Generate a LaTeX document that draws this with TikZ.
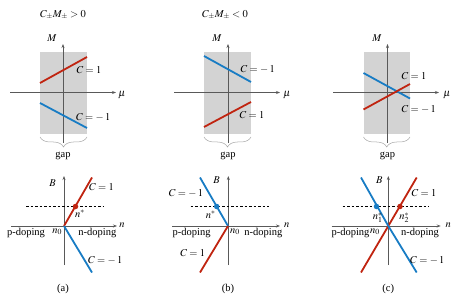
\documentclass[tikz,border=0pt]{standalone}
\usepackage{mathptmx}
\usepackage{fontspec}
\setmainfont{Liberation Serif}
\usetikzlibrary{arrows.meta,decorations.pathreplacing}
\definecolor{cred}{RGB}{192,36,16}
\definecolor{cblue}{RGB}{24,124,196}
\definecolor{cgap}{RGB}{211,211,211}
\tikzset{
  axis/.style={black!65,line width=0.8pt,-{Stealth[length=4pt,width=3pt]}},
  redline/.style={cred,line width=1.8pt},
  blueline/.style={cblue,line width=1.8pt},
  gapbox/.style={fill=cgap,draw=none},
  gapbrace/.style={black!35,line width=0.5pt,decorate,decoration={brace,mirror,amplitude=10pt}},
  level/.style={black,line width=0.8pt,dash pattern=on 2.5pt off 2pt},
  lbl/.style={inner sep=0pt,font=\fontsize{10.5}{12}\selectfont},
  dotred/.style={circle,fill=cred,inner sep=0pt,minimum size=5.5pt},
  dotblue/.style={circle,fill=cblue,inner sep=0pt,minimum size=5.5pt},
}
\begin{document}
\begin{tikzpicture}[x=1pt,y=-1pt]
\useasboundingbox (0,0) rectangle (457,299);
% 标题
\node[lbl] (ta) at (63,15) {$C_\pm M_\pm > 0$};
\node[lbl] (tb) at (225,15) {$C_\pm M_\pm < 0$};
% (a) 上
\fill[gapbox] (40,52) rectangle (87,134);
\draw[gapbrace] (40,137) -- (87,137);
\draw[axis] (63,143) -- (63,44);
\draw[axis] (10,92.5) -- (116,92.5);
\draw[redline] (40,83) -- (87,57);
\draw[blueline] (40,103) -- (87,128);
\node[lbl] (aM) at (52,38) {$M$};
\node[lbl] (amu) at (122,95) {$\mu$};
\node[lbl,anchor=west] (aC1) at (76.5,70) {$C=1$};
\node[lbl,anchor=west] (aC2) at (76,117) {$C=-\,1$};
\node[lbl] (agap) at (63,156) {gap};
% (b) 上
\fill[gapbox] (204,52) rectangle (251,134);
\draw[gapbrace] (204,137) -- (251,137);
\draw[axis] (228,143) -- (228,44);
\draw[axis] (174,92.5) -- (280,92.5);
\draw[blueline] (204,56) -- (251,82);
\draw[redline] (204,127) -- (251,102);
\node[lbl] (bM) at (217,38) {$M$};
\node[lbl] (bmu) at (287,95) {$\mu$};
\node[lbl,anchor=west] (bC2) at (240.5,69.5) {$C=-\,1$};
\node[lbl,anchor=west] (bC1) at (239.5,115) {$C=1$};
\node[lbl] (bgap) at (228,156) {gap};
% (c) 上
\fill[gapbox] (363.5,52) rectangle (410,134);
\draw[gapbrace] (363.5,137) -- (410,137);
\draw[axis] (387.5,143) -- (387.5,44);
\draw[axis] (333,92.5) -- (439,92.5);
\draw[blueline] (363.5,73) -- (410,98.5);
\draw[redline] (363.5,109.5) -- (410,84);
\node[lbl] (cM) at (377,38) {$M$};
\node[lbl] (cmu) at (447,95) {$\mu$};
\node[lbl,anchor=west] (cC1) at (401.5,76.5) {$C=1$};
\node[lbl,anchor=west] (cC2) at (401.5,109) {$C=-\,1$};
\node[lbl] (cgap) at (387.5,156) {gap};
% (a) 下
\coordinate (Oa) at (64,226);
\coordinate (aR) at (92,177.5);
\coordinate (aB) at (92,272.5);
\draw[axis] (64,265) -- (64,176);
\draw[axis] (11,226) -- (117,226);
\draw[level] (26,206.5) -- (103,206.5);
\draw[redline] (Oa) -- (aR);
\draw[blueline] (Oa) -- (aB);
\node[dotred] (aS) at (75.5,206.5) {};
\node[lbl] (an) at (80,213.5) {$n^{*}$};
\node[lbl,anchor=west] (aD1) at (89,186.7) {$C=1$};
\node[lbl,anchor=west] (aD2) at (88,260) {$C=-\,1$};
\node[lbl] (aB0) at (52.5,183.3) {$B$};
\node[lbl] (anx) at (122,225) {$n$};
\node[lbl] (ap) at (26,233.3) {p-doping};
\node[lbl] (an0) at (57.3,231.7) {$n_0$};
\node[lbl] (ann) at (97.3,233.3) {n-doping};
\node[lbl] (acap) at (63,289) {(a)};
% (b) 下
\coordinate (Ob) at (228,226);
\coordinate (bB) at (200,177.5);
\coordinate (bR) at (200,272.5);
\draw[axis] (228.3,265) -- (228.3,176);
\draw[axis] (172.3,226) -- (280,226);
\draw[level] (190.7,206.5) -- (269.3,206.5);
\draw[blueline] (Ob) -- (bB);
\draw[redline] (Ob) -- (bR);
\node[dotblue] (bS) at (216.7,206.5) {};
\node[lbl] (bn) at (210.7,215) {$n^{*}$};
\node[lbl] (bD2) at (186,193.3) {$C=-\,1$};
\node[lbl] (bD1) at (192.7,253.3) {$C=1$};
\node[lbl] (bB0) at (216.7,180) {$B$};
\node[lbl] (bnx) at (286.7,225) {$n$};
\node[lbl] (bp) at (191.7,233.3) {p-doping};
\node[lbl] (bn0) at (235,231.7) {$n_0$};
\node[lbl] (bnn) at (263.3,233.3) {n-doping};
\node[lbl] (bcap) at (228,289) {(b)};
% (c) 下
\coordinate (Oc) at (388.3,226);
\coordinate (cR1) at (361,272.5);
\coordinate (cR2) at (416.7,177.5);
\coordinate (cB1) at (361,177.5);
\coordinate (cB2) at (416.7,272.5);
\draw[axis] (388.3,265) -- (388.3,176);
\draw[axis] (331.7,226) -- (440.7,226);
\draw[level] (342.7,206.5) -- (428.3,206.5);
\draw[redline] (cR1) -- (Oc) -- (cR2);
\draw[blueline] (cB1) -- (Oc) -- (cB2);
\node[dotblue] (cS1) at (376.5,206.5) {};
\node[dotred] (cS2) at (400,206.5) {};
\node[lbl] (cn1) at (377.7,217.7) {$n_1^{*}$};
\node[lbl] (cn2) at (404.3,217.7) {$n_2^{*}$};
\node[lbl] (cD1) at (424,193.3) {$C=1$};
\node[lbl] (cD2) at (427.3,260) {$C=-\,1$};
\node[lbl] (cB0) at (379.3,180) {$B$};
\node[lbl] (cnx) at (448.3,225) {$n$};
\node[lbl] (cp) at (350.5,233.3) {p-doping};
\node[lbl] (cn0) at (375,231.7) {$n_0$};
\node[lbl] (cnn) at (420,233.3) {n-doping};
\node[lbl] (ccap) at (388.3,289) {(c)};
\end{tikzpicture}
\end{document}
